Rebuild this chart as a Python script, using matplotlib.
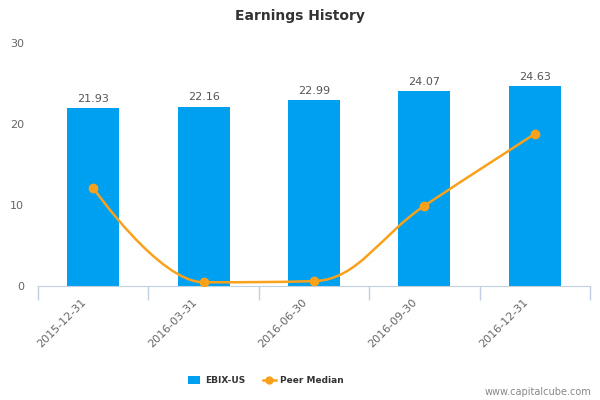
import matplotlib.pyplot as plt
from matplotlib.path import Path
from matplotlib.patches import PathPatch, Patch
from matplotlib.lines import Line2D
import matplotlib.transforms as mtransforms
import numpy as np

dates = ["2015-12-31", "2016-03-31", "2016-06-30", "2016-09-30", "2016-12-31"]
ebix = [21.93, 22.16, 22.99, 24.07, 24.63]
peer = [12.1, 0.46, 0.6, 9.9, 18.77]

bar_color = "#00a0f0"
line_color = "#f9a11b"


def spline_path(xs, ys, smoothing=1.5):
    # highcharts style spline through the points
    denom = smoothing + 1
    n = len(xs)
    lc = [None] * n
    rc = [None] * n
    for i in range(1, n - 1):
        px, py = xs[i], ys[i]
        lx, ly = xs[i - 1], ys[i - 1]
        nx, ny = xs[i + 1], ys[i + 1]
        lcx = (smoothing * px + lx) / denom
        lcy = (smoothing * py + ly) / denom
        rcx = (smoothing * px + nx) / denom
        rcy = (smoothing * py + ny) / denom
        corr = ((rcy - lcy) * (rcx - px)) / (rcx - lcx) + py - rcy
        lcy += corr
        rcy += corr
        if lcy > ly and lcy > py:
            lcy = max(ly, py)
            rcy = 2 * py - lcy
        elif lcy < ly and lcy < py:
            lcy = min(ly, py)
            rcy = 2 * py - lcy
        if rcy > ny and rcy > py:
            rcy = max(ny, py)
            lcy = 2 * py - rcy
        elif rcy < ny and rcy < py:
            rcy = min(ny, py)
            lcy = 2 * py - rcy
        lc[i] = (lcx, lcy)
        rc[i] = (rcx, rcy)
    verts = [(xs[0], ys[0])]
    codes = [Path.MOVETO]
    for i in range(1, n):
        c1 = rc[i - 1] if rc[i - 1] is not None else (xs[i - 1], ys[i - 1])
        c2 = lc[i] if lc[i] is not None else (xs[i], ys[i])
        verts += [c1, c2, (xs[i], ys[i])]
        codes += [Path.CURVE4] * 3
    return Path(verts, codes)


fig = plt.figure(figsize=(6, 4), dpi=100)
ax = fig.add_axes([0.0633, 0.285, 0.92, 0.6075])

x = np.arange(len(dates))
ax.bar(x, ebix, width=0.47, color=bar_color, zorder=2)
for xi, v in zip(x, ebix):
    ax.text(xi, v + 0.5, "%.2f" % v, ha="center", va="bottom", fontsize=8, color="#555555")

ax.add_patch(PathPatch(spline_path(list(x), peer), fill=False, edgecolor=line_color, lw=1.8, zorder=3))
ax.plot(x, peer, "o", color=line_color, ms=6, zorder=4)

ax.set_xlim(-0.5, len(dates) - 0.5)
ax.set_ylim(0, 30)
ax.set_yticks([0, 10, 20, 30])
ax.tick_params(axis="y", length=0, labelsize=8, labelcolor="#666666", pad=10)
ax.set_xticks(x)
ax.set_xticklabels(dates, rotation=45, ha="right", rotation_mode="anchor", fontsize=8, color="#666666")
ax.tick_params(axis="x", length=0, pad=8)
shift = mtransforms.ScaledTranslation(-12 / 100, 0, fig.dpi_scale_trans)
for lab in ax.get_xticklabels():
    lab.set_transform(lab.get_transform() + shift)
ax.set_xticks(np.arange(-0.5, len(dates)), minor=True)
ax.tick_params(axis="x", which="minor", length=10, color="#c0d0e0", width=1)

for s in ["top", "right", "left"]:
    ax.spines[s].set_visible(False)
ax.spines["bottom"].set_color("#c0d0e0")

fig.text(0.5, 0.96, "Earnings History", ha="center", va="center", fontsize=10, fontweight="bold", color="#333333")

handles = [
    Patch(facecolor=bar_color, label="EBIX-US"),
    Line2D([0], [0], color=line_color, marker="o", lw=1.8, ms=5, label="Peer Median"),
]
leg = fig.legend(handles=handles, loc="center", bbox_to_anchor=(0.443, 0.048), ncol=2, frameon=False,
                 prop={"size": 6.5, "weight": "bold"}, handlelength=1.4, handleheight=1.0,
                 columnspacing=2.0, handletextpad=0.5)
for t in leg.get_texts():
    t.set_color("#333333")

fig.text(0.985, 0.02, "www.capitalcube.com", ha="right", va="center", fontsize=7, color="#888888")

fig.savefig("out.png", dpi=100)
